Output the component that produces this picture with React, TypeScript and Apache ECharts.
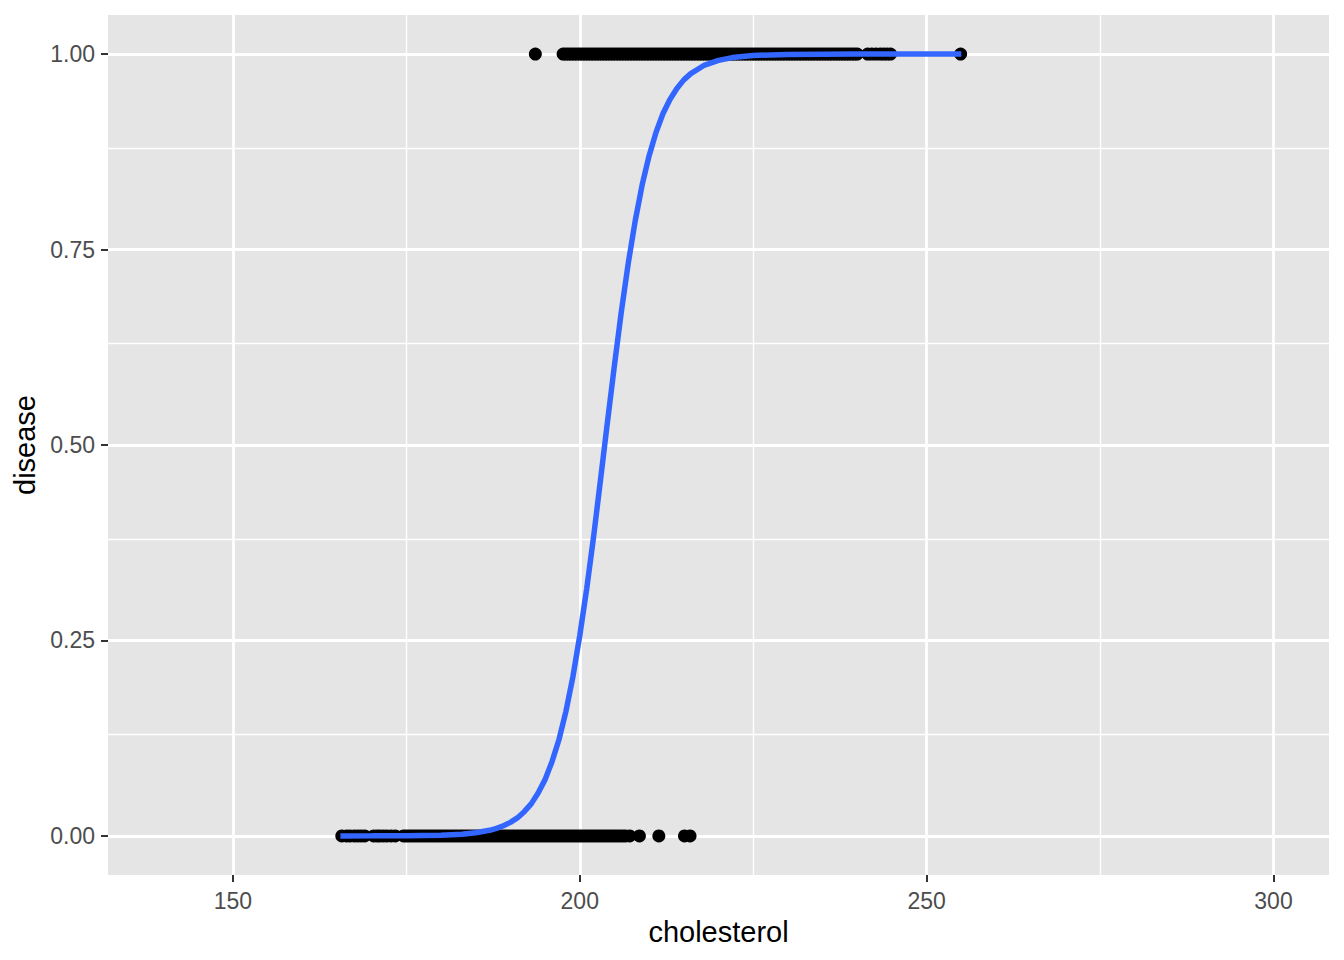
import React, { useEffect, useRef } from "react";
import * as echarts from "echarts";

// Observations (cholesterol) with disease = 0
const noDisease: number[] = [
  165.7, 166.4, 166.9, 167.5, 168.0, 168.5, 169.0, 170.3, 170.8, 171.2, 171.7, 172.2,
  172.8, 173.4, 174.6, 175.0, 175.4, 175.8, 176.2, 176.6, 177.0, 177.4, 177.8, 178.2,
  178.6, 179.0, 179.4, 179.8, 180.2, 180.6, 181.0, 181.4, 181.8, 182.2, 182.6, 183.0,
  183.4, 183.8, 184.2, 184.6, 185.0, 185.4, 185.8, 186.2, 186.6, 187.0, 187.4, 187.8,
  188.2, 188.6, 189.0, 189.4, 189.8, 190.2, 190.6, 191.0, 191.4, 191.8, 192.2, 192.6,
  193.0, 193.4, 193.8, 194.2, 194.6, 195.0, 195.4, 195.8, 196.2, 196.6, 197.0, 197.4,
  197.8, 198.2, 198.6, 199.0, 199.4, 199.8, 200.2, 200.6, 201.0, 201.4, 201.8, 202.2,
  202.6, 203.0, 203.4, 203.8, 204.2, 204.6, 205.0, 205.4, 205.8, 206.2, 206.6, 207.2,
  208.6, 211.4, 215.1, 215.9,
];

// Observations (cholesterol) with disease = 1
const withDisease: number[] = [
  193.6, 197.6, 198.0, 198.4, 198.8, 199.2, 199.6, 200.0, 200.4, 200.8, 201.2, 201.6,
  202.0, 202.4, 202.8, 203.2, 203.6, 204.0, 204.4, 204.8, 205.2, 205.6, 206.0, 206.4,
  206.8, 207.2, 207.6, 208.0, 208.4, 208.8, 209.2, 209.6, 210.0, 210.4, 210.8, 211.2,
  211.6, 212.0, 212.4, 212.8, 213.2, 213.6, 214.0, 214.4, 214.8, 215.2, 215.6, 216.0,
  216.4, 216.8, 217.2, 217.6, 218.0, 218.4, 218.8, 219.2, 219.6, 220.0, 220.4, 220.8,
  221.2, 221.6, 222.0, 222.4, 222.8, 223.2, 223.6, 224.0, 224.4, 224.8, 225.2, 225.6,
  226.0, 226.4, 226.8, 227.2, 227.6, 228.0, 228.4, 228.8, 229.2, 229.6, 230.0, 230.4,
  230.8, 231.2, 231.6, 232.0, 232.4, 232.8, 233.2, 233.6, 234.0, 234.4, 234.8, 235.2,
  235.6, 236.0, 236.4, 236.8, 237.2, 237.6, 238.0, 238.4, 238.8, 239.2, 239.6, 240.0,
  241.5, 242.1, 242.7, 243.3, 243.8, 244.3, 244.8, 254.9,
];

// Fitted logistic curve
const curveX: number[] = [
  165.5, 170, 175, 180, 183, 185, 187, 188, 189, 190, 191, 192, 193, 194, 195, 196, 197,
  198, 199, 200, 201, 202, 203, 204, 205, 206, 207, 208, 209, 210, 211, 212, 213, 214,
  215, 216, 218, 220, 222, 225, 230, 240, 255,
];
const curveY: number[] = [
  0.0, 0.00005, 0.0002, 0.0009, 0.0022, 0.004, 0.0072, 0.0096, 0.013, 0.0173, 0.023,
  0.031, 0.041, 0.055, 0.072, 0.095, 0.123, 0.159, 0.203, 0.256, 0.316, 0.383, 0.456,
  0.53, 0.602, 0.671, 0.733, 0.787, 0.833, 0.87, 0.9, 0.924, 0.942, 0.956, 0.967, 0.975,
  0.986, 0.992, 0.9955, 0.9983, 0.9996, 1.0, 1.0,
];

const xMajor: number[] = [150, 200, 250, 300];
const xMinor: number[] = [175, 225, 275];
const yMajor: number[] = [0, 0.25, 0.5, 0.75, 1];
const yMinor: number[] = [0.125, 0.375, 0.625, 0.875];

const FONT = "'Liberation Sans', Arial, Helvetica, sans-serif";

export default function App() {
  const ref = useRef<HTMLDivElement>(null);
  useEffect(() => {
    if (!ref.current) return;
    const chart = echarts.init(ref.current, null, { renderer: "svg" });
    const major = { color: "#FFFFFF", width: 2.8, type: "solid" };
    const minor = { color: "#FFFFFF", width: 1.4, type: "solid" };
    const gridLines = [
      ...xMinor.map((v) => ({ xAxis: v, lineStyle: minor })),
      ...yMinor.map((v) => ({ yAxis: v, lineStyle: minor })),
      ...xMajor.map((v) => ({ xAxis: v, lineStyle: major })),
      ...yMajor.map((v) => ({ yAxis: v, lineStyle: major })),
    ];
    chart.setOption({
      animation: false,
      backgroundColor: "#FFFFFF",
      grid: {
        left: 108,
        top: 15,
        width: 1221,
        height: 860,
        show: true,
        backgroundColor: "#E5E5E5",
        borderWidth: 0,
      },
      xAxis: {
        type: "value",
        min: 132,
        max: 308,
        name: "cholesterol",
        nameLocation: "middle",
        nameGap: 42,
        nameTextStyle: { color: "#000000", fontSize: 29, fontFamily: FONT },
        axisLine: { show: false, onZero: false },
        splitLine: { show: false },
        axisTick: {
          show: true,
          length: 7,
          customValues: xMajor,
          lineStyle: { color: "#333333", width: 2 },
        },
        axisLabel: {
          customValues: xMajor,
          margin: 14,
          color: "#4D4D4D",
          fontSize: 23,
          fontFamily: FONT,
        },
      },
      yAxis: {
        type: "value",
        min: -0.05,
        max: 1.05,
        name: "disease",
        nameLocation: "middle",
        nameGap: 68,
        nameRotate: 90,
        nameTextStyle: { color: "#000000", fontSize: 29, fontFamily: FONT },
        axisLine: { show: false, onZero: false },
        splitLine: { show: false },
        axisTick: {
          show: true,
          length: 7,
          customValues: yMajor,
          lineStyle: { color: "#333333", width: 2 },
        },
        axisLabel: {
          customValues: yMajor,
          margin: 13,
          color: "#4D4D4D",
          fontSize: 23,
          fontFamily: FONT,
          formatter: (v: number) => v.toFixed(2),
        },
      },
      series: [
        {
          type: "scatter",
          data: [],
          z: 0,
          silent: true,
          markLine: {
            z: 0,
            silent: true,
            symbol: "none",
            label: { show: false },
            animation: false,
            data: gridLines,
          },
        },
        {
          type: "scatter",
          z: 3,
          symbol: "circle",
          symbolSize: 13,
          itemStyle: { color: "#000000", opacity: 1 },
          data: [
            ...noDisease.map((v) => [v, 0]),
            ...withDisease.map((v) => [v, 1]),
          ],
        },
        {
          type: "line",
          z: 4,
          showSymbol: false,
          symbol: "none",
          smooth: false,
          lineStyle: { color: "#3366FF", width: 5.5 },
          data: curveX.map((x, i) => [x, curveY[i]]),
        },
      ],
    });
    return () => chart.dispose();
  }, []);
  return (
    <div
      ref={ref}
      style={{ position: "fixed", left: 0, top: 0, width: 1344, height: 960 }}
    />
  );
}
